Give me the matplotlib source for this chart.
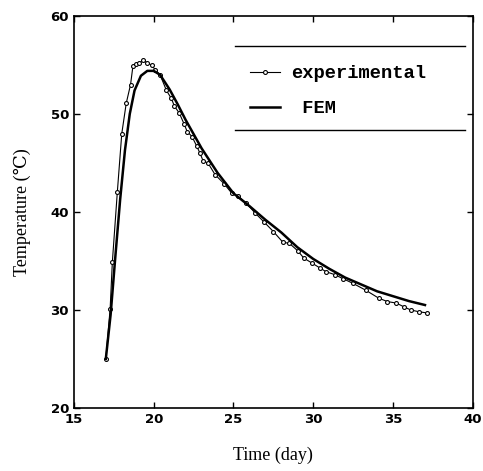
import matplotlib.pyplot as plt
import matplotlib as mpl
from matplotlib.lines import Line2D

# experimental readings (day, temperature)
exp_day = [17.0, 17.27, 17.41, 17.72, 18.0, 18.28, 18.55, 18.7, 18.87, 19.07, 19.35,
           19.6, 19.87, 20.1, 20.4, 20.8, 21.1, 21.3, 21.6, 21.9, 22.1, 22.4, 22.7,
           22.9, 23.1, 23.4, 23.85, 24.4, 24.9, 25.3, 25.8, 26.35, 26.9, 27.5, 28.1,
           28.5, 29.05, 29.4, 29.9, 30.4, 30.8, 31.35, 31.85, 32.5, 33.3, 34.1, 34.65,
           35.2, 35.7, 36.1, 36.65, 37.1]
exp_temp = [25.0, 30.1, 34.9, 42.0, 48.0, 51.1, 53.0, 54.9, 55.1, 55.2, 55.5,
            55.2, 55.0, 54.5, 54.0, 52.4, 51.6, 50.8, 50.1, 49.0, 48.2, 47.7, 46.7,
            46.0, 45.2, 45.0, 43.8, 42.9, 41.9, 41.6, 40.9, 39.9, 39.0, 38.0, 36.9,
            36.8, 36.0, 35.3, 34.8, 34.3, 33.9, 33.6, 33.2, 32.7, 32.0, 31.2, 30.85,
            30.7, 30.3, 30.0, 29.8, 29.7]

# FEM prediction
fem_day = [17.0, 17.3, 17.6, 17.9, 18.2, 18.5, 18.8, 19.2, 19.6, 20.0, 20.4, 21.0,
           21.5, 22.0, 23.0, 24.0, 25.0, 26.0, 27.0, 28.0, 29.0, 30.0, 31.0, 32.0,
           33.0, 34.0, 35.0, 36.0, 37.0]
fem_temp = [25.0, 29.5, 35.5, 41.3, 46.3, 50.0, 52.4, 53.9, 54.4, 54.4, 54.0, 52.5,
            51.0, 49.4, 46.5, 44.0, 41.9, 40.6, 39.2, 37.9, 36.4, 35.2, 34.2, 33.3,
            32.6, 31.9, 31.4, 30.9, 30.5]

xticks = [15, 20, 25, 30, 35, 40]
yticks = [20, 30, 40, 50, 60]

mpl.rcParams["font.family"] = "DejaVu Sans"

fig = plt.figure(figsize=(4.83, 4.71), dpi=100)
ax = fig.add_axes([0.153, 0.134, 0.826, 0.832])

ax.plot(exp_day, exp_temp, color="black", lw=0.8, marker="o", ms=2.8,
        mfc="white", mec="black", mew=0.8, label="experimental")
ax.plot(fem_day, fem_temp, color="black", lw=1.8, label=" FEM")

ax.set_xlim(15, 40)
ax.set_ylim(20, 60)
ax.set_xticks(xticks)
ax.set_yticks(yticks)
ax.tick_params(direction="in", top=True, right=True, length=4, width=1,
               labelsize=9.5)
for lab in ax.get_xticklabels() + ax.get_yticklabels():
    lab.set_fontweight("bold")
for s in ax.spines.values():
    s.set_linewidth(1.2)

ax.set_xlabel("Time (day)", family="Liberation Serif", fontsize=13, labelpad=15)
ax.set_ylabel("Temperature (℃)", family=["Liberation Serif", "DejaVu Serif"],
              fontsize=13, labelpad=14)

leg = ax.legend(loc="center left", bbox_to_anchor=(0.4425, 0.8085), frameon=False,
                borderpad=0, borderaxespad=0, numpoints=1,
                handlelength=1.6, handletextpad=0.55, labelspacing=0.95,
                prop={"family": "Liberation Mono", "weight": "bold", "size": 13.5})

# rules above and below the legend
for yy in (0.923, 0.709):
    ax.add_line(Line2D([0.405, 0.98], [yy, yy], transform=ax.transAxes,
                       color="black", lw=1.0))

fig.savefig("out.png", dpi=100)
